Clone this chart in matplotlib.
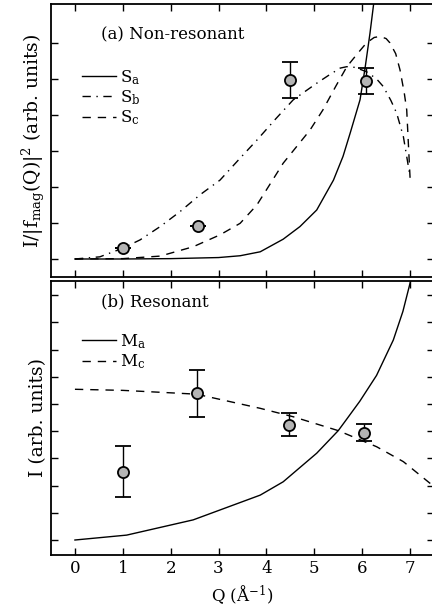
import numpy as np
import matplotlib.pyplot as plt

plt.rcParams['font.family'] = 'DejaVu Serif'
plt.rcParams['mathtext.fontset'] = 'dejavuserif'

# (a) non-resonant: data points
qa_pts = [1.0, 2.57, 4.49, 6.07]
ia_pts = [0.3, 0.92, 4.97, 4.94]
ia_err = [0.0, 0.0, 0.51, 0.37]

# model curves
qa_sa = [0, 1, 2, 3, 3.45, 3.87, 4.35, 4.7, 5.05, 5.4, 5.6, 5.75, 5.955, 6.06, 6.163, 6.26]
sa = [0, 0, 0.01, 0.04, 0.09, 0.2, 0.55, 0.9, 1.36, 2.19, 2.85, 3.5, 4.42, 5.3, 6.27, 7.3]

qa_sb = [0, 0.52, 1.0, 1.36, 1.78, 2.19, 2.61, 3.03, 3.45, 3.8, 4.2, 4.56, 5.05, 5.3,
         5.54, 5.68, 5.85, 6.09, 6.3, 6.44, 6.6, 6.72, 6.86, 7.0]
sb = [0, 0.06, 0.3, 0.53, 0.9, 1.31, 1.78, 2.19, 2.8, 3.3, 3.9, 4.42, 4.88, 5.1,
      5.3, 5.34, 5.32, 5.2, 5.0, 4.79, 4.4, 4.05, 3.4, 2.29]

qa_sc = [0, 1, 1.78, 2.47, 3.03, 3.45, 3.8, 4.0, 4.35, 4.91, 5.18, 5.45, 5.68, 5.9,
         6.09, 6.25, 6.37, 6.5, 6.58, 6.7, 6.79, 6.88, 6.93, 7.0]
sc = [0, 0.01, 0.08, 0.34, 0.67, 0.99, 1.5, 1.92, 2.66, 3.58, 4.14, 4.8, 5.34, 5.7,
      6.0, 6.15, 6.18, 6.12, 6.0, 5.7, 5.25, 4.6, 4.14, 2.25]

# (b) resonant: data points
qb_pts = [1.0, 2.55, 4.48, 6.04]
ib_pts = [2.51, 5.39, 4.23, 3.95]
ib_err = [0.93, 0.87, 0.42, 0.3]

qb_ma = [0, 1.08, 2.47, 3.87, 4.35, 5.05, 5.5, 5.68, 5.95, 6.3, 6.65, 6.85, 7.0, 7.1]
ma = [0, 0.18, 0.74, 1.65, 2.14, 3.19, 4.02, 4.45, 5.1, 6.05, 7.35, 8.4, 9.44, 10.2]

qb_mc = [0, 1.0, 1.78, 2.54, 3.87, 4.56, 5.5, 6.3, 6.86, 7.42, 7.6]
mc = [5.54, 5.5, 5.43, 5.36, 4.84, 4.53, 4.02, 3.43, 2.88, 2.08, 1.8]

W, H = 432, 615
fig = plt.figure(figsize=(W / 100, H / 100), dpi=100)
x0 = 51 / W
w = 383 / W
ax1 = fig.add_axes([x0, (H - 277) / H, w, 273 / H])
ax2 = fig.add_axes([x0, (H - 554.7) / H, w, 273.7 / H])

lw = 1.0
mk = dict(fmt='o', ms=8, mfc='#b4b4b4', mec='k', mew=1.3, ecolor='k',
          elinewidth=1.0, capsize=6, capthick=1.2)

ax1.plot(qa_sa, sa, 'k-', lw=lw, label=r'S$_\mathrm{a}$')
ax1.plot(qa_sb, sb, 'k', lw=lw, dashes=(6, 4, 1, 4), label=r'S$_\mathrm{b}$')
ax1.plot(qa_sc, sc, 'k', lw=lw, dashes=(6, 5), label=r'S$_\mathrm{c}$')
ax1.errorbar(qa_pts, ia_pts, yerr=ia_err, **mk)

ax2.plot(qb_ma, ma, 'k-', lw=lw, label=r'M$_\mathrm{a}$')
ax2.plot(qb_mc, mc, 'k', lw=lw, dashes=(6, 5), label=r'M$_\mathrm{c}$')
ax2.errorbar(qb_pts, ib_pts, yerr=ib_err, **mk)

ax1.set_ylim(-0.5, 7.08)
ax2.set_ylim(-0.54, 9.52)
ax1.set_yticks(range(0, 7))
ax2.set_yticks(range(0, 10))

for ax, top in ((ax1, 0.795), (ax2, 0.843)):
    ax.set_xlim(-0.5, 7.5)
    ax.set_xticks(range(0, 8))
    ax.tick_params(direction='in', length=5, width=1, top=True, right=True,
                   labelleft=False, labelsize=12)
    for s in ax.spines.values():
        s.set_linewidth(1.3)
    ax.legend(loc='upper left', bbox_to_anchor=(0.06, top), frameon=False,
              fontsize=12, handlelength=2.0, handletextpad=0.25,
              labelspacing=0.08, borderpad=0)

ax1.tick_params(labelbottom=False)
ax1.text(0.13, 0.872, '(a) Non-resonant', transform=ax1.transAxes, fontsize=12)
ax2.text(0.13, 0.909, '(b) Resonant', transform=ax2.transAxes, fontsize=12)

ax1.set_ylabel(r'I/|f$_\mathrm{mag}$(Q)|$^2$ (arb. units)', fontsize=13.5, labelpad=3)
ax2.set_ylabel('I (arb. units)', fontsize=13.5, labelpad=3)
ax2.set_xlabel(r'Q (Å$^{-1}$)', fontsize=12, labelpad=5)

fig.savefig('out.png', dpi=100)
